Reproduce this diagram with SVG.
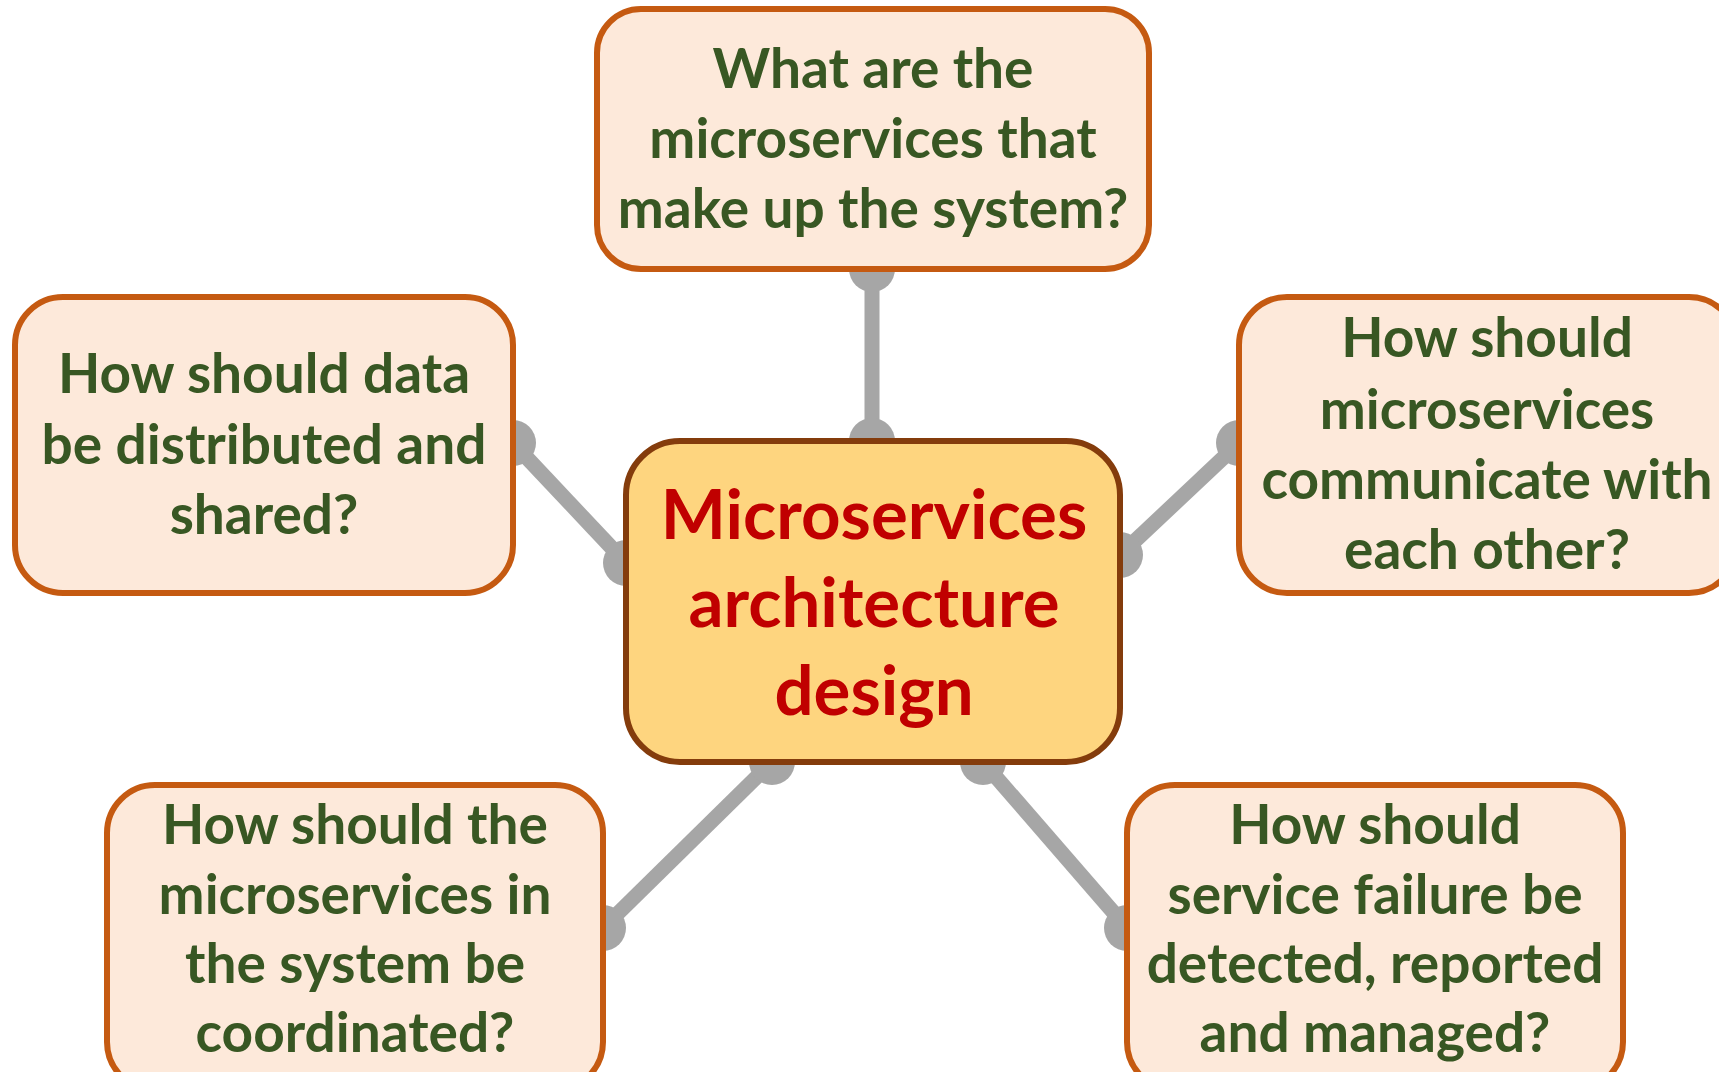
<svg xmlns="http://www.w3.org/2000/svg" width="1719" height="1072" viewBox="0 0 1719 1072">
<style>
.q{fill:#FDE9DA;stroke:#C55A11;stroke-width:6}
.c{fill:#FED57F;stroke:#843C0C;stroke-width:6}
.qt{font-family:Lato,"Open Sans",sans-serif;font-weight:bold;font-size:55px;fill:#385723;text-anchor:middle}
.ct{font-family:Lato,"Open Sans",sans-serif;font-weight:bold;font-size:69px;fill:#C00000;text-anchor:middle}
.ln{stroke:#A6A6A6;stroke-width:15;fill:none}
.dot{fill:#A6A6A6}
</style>
<rect width="1719" height="1072" fill="#FFFFFF"/>
<g id="connectors">
<line class="ln" x1="872" y1="269" x2="872" y2="441"/>
<circle class="dot" cx="872" cy="269" r="23"/>
<circle class="dot" cx="872" cy="441" r="23"/>
<line class="ln" x1="513" y1="443" x2="626" y2="563"/>
<circle class="dot" cx="513" cy="443" r="23"/>
<circle class="dot" cx="626" cy="563" r="23"/>
<line class="ln" x1="1120" y1="555" x2="1239" y2="443"/>
<circle class="dot" cx="1120" cy="555" r="23"/>
<circle class="dot" cx="1239" cy="443" r="23"/>
<line class="ln" x1="772" y1="762" x2="603" y2="928"/>
<circle class="dot" cx="772" cy="762" r="23"/>
<circle class="dot" cx="603" cy="928" r="23"/>
<line class="ln" x1="983" y1="762" x2="1127" y2="928"/>
<circle class="dot" cx="983" cy="762" r="23"/>
<circle class="dot" cx="1127" cy="928" r="23"/>
</g>
<g id="node-top">
<rect class="q" x="597" y="9" width="552" height="260" rx="44"/>
<text class="qt" x="873" y="88">What are the</text>
<text class="qt" x="873" y="158">microservices that</text>
<text class="qt" x="873" y="228">make up the system?</text>
</g>
<g id="node-left">
<rect class="q" x="15" y="297" width="498" height="296" rx="48"/>
<text class="qt" x="264" y="393">How should data</text>
<text class="qt" x="264" y="464">be distributed and</text>
<text class="qt" x="264" y="534">shared?</text>
</g>
<g id="node-right">
<rect class="q" x="1239" y="297" width="498" height="296" rx="48"/>
<text class="qt" x="1487" y="357">How should</text>
<text class="qt" x="1487" y="429">microservices</text>
<text class="qt" x="1487" y="499">communicate with</text>
<text class="qt" x="1487" y="569">each other?</text>
</g>
<g id="node-bottom-left">
<rect class="q" x="107" y="785" width="496" height="305" rx="48"/>
<text class="qt" x="355" y="844">How should the</text>
<text class="qt" x="355" y="914">microservices in</text>
<text class="qt" x="355" y="983">the system be</text>
<text class="qt" x="355" y="1052">coordinated?</text>
</g>
<g id="node-bottom-right">
<rect class="q" x="1127" y="785" width="496" height="305" rx="48"/>
<text class="qt" x="1375" y="844">How should</text>
<text class="qt" x="1375" y="914">service failure be</text>
<text class="qt" x="1375" y="983">detected, reported</text>
<text class="qt" x="1375" y="1052">and managed?</text>
</g>
<g id="node-center">
<rect class="c" x="626" y="441" width="494" height="321" rx="54"/>
<text class="ct" x="874" y="539">Microservices</text>
<text class="ct" x="874" y="627">architecture</text>
<text class="ct" x="874" y="715">design</text>
</g>
</svg>
